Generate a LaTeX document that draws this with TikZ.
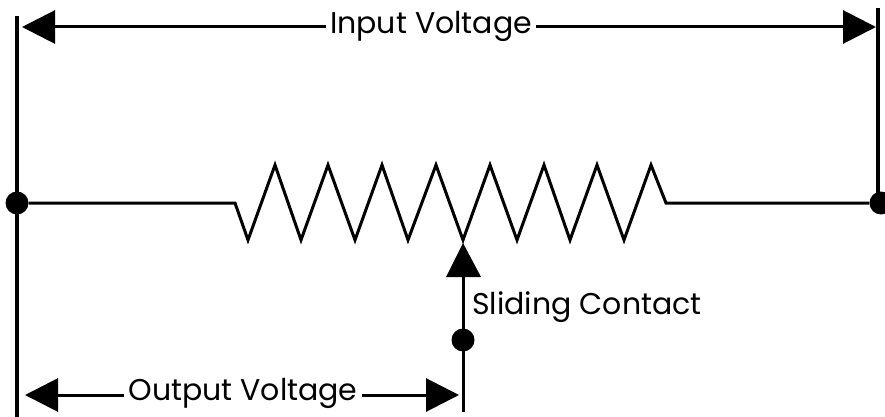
\documentclass[tikz,border=0pt]{standalone}
\usepackage{fontspec}
\setmainfont{Poppins}
\usetikzlibrary{arrows.meta}
\tikzset{wire/.style={line width=3pt,black,line join=miter},
 rail/.style={line width=4.4pt,black},
 dimline/.style={line width=3pt,black,{Triangle[length=33pt,width=33pt]}-{Triangle[length=33pt,width=33pt]}},
 lab/.style={font=\fontsize{30}{30}\selectfont,inner sep=4pt,fill=white},
 dot/.style={circle,fill=black,inner sep=0pt,minimum size=23pt}}
\begin{document}
\begin{tikzpicture}[x=1pt,y=-1pt]
\useasboundingbox (0,0) rectangle (885,417);
\node[dot] (dl) at (17,203) {};
\node[dot] (dr) at (881,203) {};
\node[dot] (dc) at (463,340) {};
\coordinate (ltop) at (17,16); \coordinate (lbot) at (17,417);
\coordinate (rtop) at (878,8); \coordinate (rbot) at (878,203);
\coordinate (ctop) at (463,262); \coordinate (cbot) at (463,412);
\draw[rail] (ltop)--(lbot);
\draw[rail] (rtop)--(rbot);
\draw[wire] (dl)--(235,203)--(248,240)--(275,165)--(301,240)--(328,165)--(355,240)--(382,165)--(408,240)--(436,165)--(463,240)--(490,165)--(517,240)--(544,165)--(570,240)--(597,165)--(624,240)--(651,165)--(666,203)--(dr);
\draw[wire] (ctop)--(cbot);
\fill (463,243)--(446,277)--(481,277)--cycle;
\coordinate (ial) at (22,27); \coordinate (iar) at (876,27);
\coordinate (oal) at (25,395); \coordinate (oar) at (459,395);
\draw[dimline] (ial)--(iar);
\draw[dimline] (oal)--(oar);
\node[lab] (inp) at (431,26) {Input Voltage};
\node[lab] (out) at (243,393) {Output Voltage};
\node[lab,fill=none,anchor=west,inner sep=0pt] (sc) at (472,307) {Sliding Contact};
\end{tikzpicture}
\end{document}
